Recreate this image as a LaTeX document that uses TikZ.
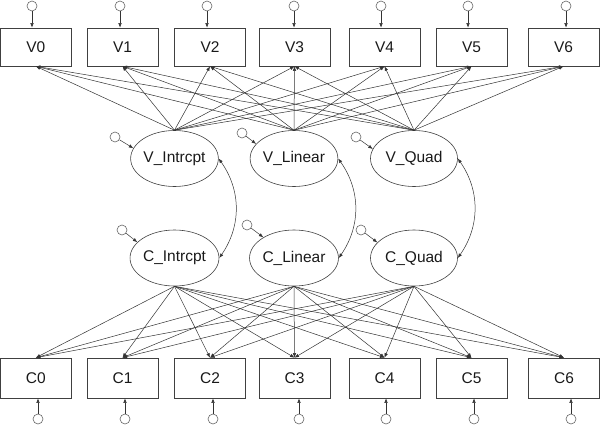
\documentclass[tikz,border=0pt]{standalone}
\usepackage{fontspec}
\setmainfont{Liberation Sans}
\usetikzlibrary{arrows.meta,shapes.geometric}
\begin{document}
\begin{tikzpicture}[x=1pt,y=-1pt,
  lbl/.style={font=\fontsize{15.5}{18}\selectfont, text=black!90},
  obs/.style={lbl, draw=black!75, line width=0.6pt, minimum width=71pt, minimum height=38pt, inner sep=0pt},
  obsc/.style={obs, minimum height=40pt},
  lat/.style={lbl, ellipse, draw=black!75, line width=0.6pt, minimum width=87pt, minimum height=56pt, inner sep=0pt},
  err/.style={circle, draw=black!60, line width=0.6pt, minimum size=10pt, inner sep=0pt},
  tip/.tip={Latex[length=4.5pt,width=3.5pt]},
  arr/.style={-tip, draw=black!80, line width=0.5pt},
  cov/.style={tip-tip, draw=black!80, line width=0.5pt}
]
\useasboundingbox (0,0) rectangle (600,426);
% observed top
\foreach \n/\x/\e in {0/35.8/32,1/122.5/120,2/210/207,3/294.5/294,4/384.5/381,5/471.5/468,6/563.5/566}{
  \node[obs] (V\n) at (\x,47) {V\n};
  \node[err] (eV\n) at (\e,6) {};
  \draw[arr] (eV\n) -- (eV\n |- V\n.north);
}
% observed bottom
\foreach \n/\x/\e in {0/35.8/38,1/122.5/125,2/210/213,3/294.5/299,4/384.5/386,5/471.5/474,6/564/571}{
  \node[obsc] (C\n) at (\x,378) {C\n};
  \node[err] (eC\n) at (\e,419) {};
  \draw[arr] (eC\n) -- (eC\n |- C\n.south);
}
% latent
\node[lat] (VI) at (174.5,158.5) {V\_Intrcpt};
\node[lat] (VL) at (294,158.5) {V\_Linear};
\node[lat] (VQ) at (414,158.5) {V\_Quad};
\node[lat] (CI) at (174.5,258) {C\_Intrcpt};
\node[lat] (CL) at (294,258) {C\_Linear};
\node[lat] (CQ) at (414,258) {C\_Quad};
% latent errors
\node[err] (eVI) at (115,137) {};
\node[err] (eVL) at (242,133) {};
\node[err] (eVQ) at (356,137) {};
\node[err] (eCI) at (122,230) {};
\node[err] (eCL) at (247,225) {};
\node[err] (eCQ) at (361,230) {};
\draw[arr] (eVI) -- (VI.166);
\draw[arr] (eVL) -- (VL.159);
\draw[arr] (eVQ) -- (VQ.167);
\draw[arr] (eCI) -- (CI.157);
\draw[arr] (eCL) -- (CL.146);
\draw[arr] (eCQ) -- (CQ.157);
% loadings
\foreach \l in {VI,VL,VQ}{
  \foreach \i in {0,...,6}{
    \draw[arr] (\l.north) -- (V\i.south);
  }
}
\foreach \l in {CI,CL,CQ}{
  \foreach \i in {0,...,6}{
    \draw[arr] (\l.south) -- (C\i.north);
  }
}
% covariances
\draw[cov] (VI.east) to[bend left=35] (CI.east);
\draw[cov] (VL.east) to[bend left=35] (CL.east);
\draw[cov] (VQ.east) to[bend left=35] (CQ.east);
\end{tikzpicture}
\end{document}
